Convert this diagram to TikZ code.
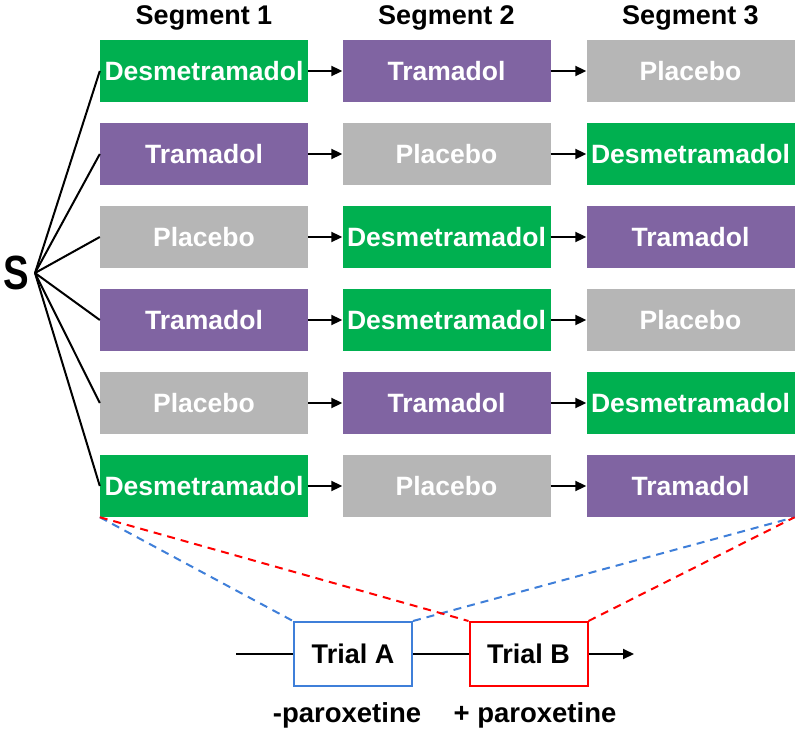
\documentclass[tikz,border=0pt]{standalone}
\usepackage{fontspec}
\setmainfont{Liberation Sans}
\usetikzlibrary{arrows.meta}
\definecolor{cgreen}{HTML}{00B050}
\definecolor{cpurple}{HTML}{8064A2}
\definecolor{cgray}{HTML}{B6B6B6}
\definecolor{cblue}{HTML}{3F7FD9}
\definecolor{cred}{HTML}{FF0000}
\tikzset{
  drug/.style={minimum width=208pt, minimum height=62pt, inner sep=0pt,
    text=white, font=\fontsize{26.5}{30}\selectfont\bfseries, text height=19pt, text depth=0pt},
  dg/.style={drug, fill=cgreen},
  dp/.style={drug, fill=cpurple},
  dy/.style={drug, fill=cgray},
  seg/.style={font=\fontsize{27}{30}\selectfont\bfseries, anchor=base},
  trialbox/.style={draw, line width=2pt, fill=white, minimum width=118pt, minimum height=64pt, inner sep=0pt,
    font=\fontsize{27}{30}\selectfont\bfseries, text height=19pt, text depth=0pt},
  arr/.style={line width=2pt, -{Triangle[length=11pt,width=10pt]}},
  fan/.style={line width=2pt},
  dash1/.style={line width=2pt, dash pattern=on 8pt off 6pt},
  lab/.style={font=\fontsize{27.5}{30}\selectfont\bfseries, anchor=base}
}
\begin{document}
\begin{tikzpicture}[x=1pt,y=-1pt]
\useasboundingbox (0,0) rectangle (800,735);
% headers
\node[seg] (h1) at (204,25) {Segment 1};
\node[seg] (h2) at (446.5,25) {Segment 2};
\node[seg] (h3) at (690.5,25) {Segment 3};
% S
\node[anchor=base, font=\fontsize{48}{52}\selectfont\bfseries, xscale=0.8, inner sep=0pt] (S) at (16,289) {S};
\coordinate (apex) at (35,273);
% rows
\node[dg] (a1) at (204,71) {Desmetramadol};
\node[dp] (b1) at (446.5,71) {Tramadol};
\node[dy] (c1) at (690.5,71) {Placebo};
\node[dp] (a2) at (204,154) {Tramadol};
\node[dy] (b2) at (446.5,154) {Placebo};
\node[dg] (c2) at (690.5,154) {Desmetramadol};
\node[dy] (a3) at (204,237) {Placebo};
\node[dg] (b3) at (446.5,237) {Desmetramadol};
\node[dp] (c3) at (690.5,237) {Tramadol};
\node[dp] (a4) at (204,320) {Tramadol};
\node[dg] (b4) at (446.5,320) {Desmetramadol};
\node[dy] (c4) at (690.5,320) {Placebo};
\node[dy] (a5) at (204,403) {Placebo};
\node[dp] (b5) at (446.5,403) {Tramadol};
\node[dg] (c5) at (690.5,403) {Desmetramadol};
\node[dg] (a6) at (204,486) {Desmetramadol};
\node[dy] (b6) at (446.5,486) {Placebo};
\node[dp] (c6) at (690.5,486) {Tramadol};
\foreach \r in {1,...,6}{
  \draw[arr] (a\r.east) -- (b\r.west);
  \draw[arr] (b\r.east) -- (c\r.west);
  \draw[fan] (apex) -- (a\r.west);
}
% trials
\coordinate (tstart) at (236,654);
\coordinate (tend) at (634,654);
\node[trialbox, draw=cblue] (A) at (353,654) {Trial A};
\node[trialbox, draw=cred] (B) at (528.5,654) {Trial B};
\draw[line width=2pt] (tstart) -- (A.west);
\draw[line width=2pt] (A.east) -- (B.west);
\draw[arr] (B.east) -- (tend);
% dashed
\draw[dash1, cblue] (a6.south west) -- (A.north west);
\draw[dash1, cblue] (A.north east) -- (c6.south east);
\draw[dash1, cred] (a6.south west) -- (B.north west);
\draw[dash1, cred] (B.north east) -- (c6.south east);
% labels
\node[lab] (la) at (347,722) {-paroxetine};
\node[lab] (lb) at (535,722) {+ paroxetine};
\end{tikzpicture}
\end{document}
